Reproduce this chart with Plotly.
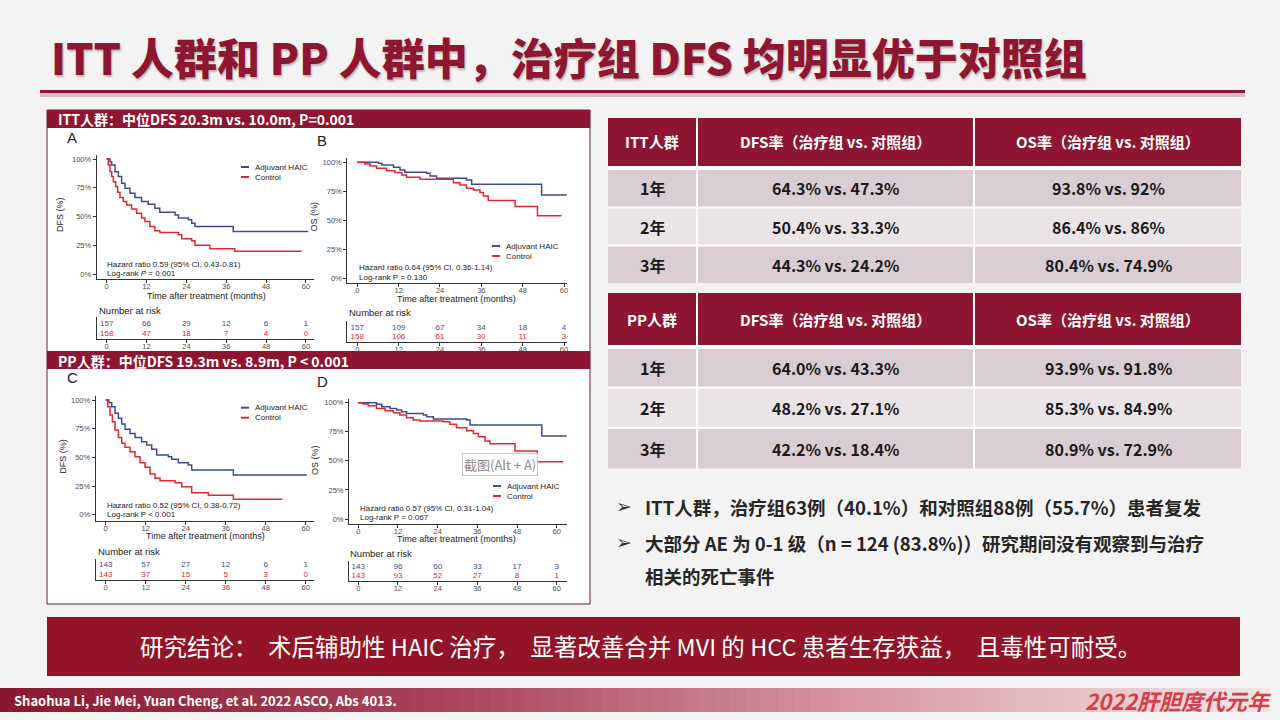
import plotly.graph_objects as go

W, H = 1280, 720


def fx(p):
    return p / W


def fy(p):
    return 1 - p / H


DARK = "#8e1630"
BLUE = "#3b4b96"
RED = "#e2282c"
CJK = "Noto Sans CJK SC"
ARIAL = "Liberation Sans, Arial"

# Kaplan-Meier steps (months, % event-free)
itt_dfs_haic_t = [0, 1, 1.5, 2.5, 3.5, 4.5, 5.5, 7, 8.5, 10.5, 12.5, 14.5, 16, 20.6, 21.6, 24.6, 25.6, 26.6, 38.1, 60.7]
itt_dfs_haic_s = [100, 97.7, 94.8, 89, 84.7, 78.9, 74.6, 70.2, 66.5, 63, 60.7, 57.2, 53.8, 51.4, 48.6, 47.1, 44.2, 41.3, 37, 37]
itt_dfs_ctrl_t = [0, 0.5, 1, 1.5, 2, 2.7, 3.3, 4, 5, 6, 7.5, 9, 10.5, 11.5, 13, 14.5, 16, 21.6, 22.6, 25.6, 26.6, 31.1, 38.6, 58.7]
itt_dfs_ctrl_s = [100, 94.8, 89, 84.7, 80.3, 76, 71.1, 66.5, 63, 60.1, 56.6, 52.9, 48.6, 45.7, 41.3, 37.6, 36.1, 34.1, 30.6, 28.9, 24.9, 22, 19.7, 19.7]

itt_os_haic_t = [0, 6.1, 7.1, 10.5, 12.4, 13.8, 20.1, 21.1, 23, 31.7, 33.2, 53.5, 60.8]
itt_os_haic_s = [100, 99.1, 97.7, 95.7, 93.4, 91.4, 90.5, 88.2, 86.2, 84.7, 81, 71.8, 71.8]
itt_os_ctrl_t = [0, 2.2, 3.7, 5.6, 8.5, 10.9, 12.9, 14.3, 18.2, 27.9, 29.8, 31.7, 33.7, 35.6, 36.6, 38, 45.8, 52.3, 59.3]
itt_os_ctrl_s = [100, 98.6, 96.8, 94.8, 92.8, 91.1, 89, 87, 85.3, 82.4, 80.4, 77.5, 76.1, 73.8, 70.9, 66.9, 61.7, 53.9, 53.9]

pp_dfs_haic_t = [0, 1, 1.8, 2.8, 3.8, 4.8, 5.8, 7.3, 8.8, 10.8, 12.3, 13.8, 15.3, 18.8, 19.8, 21.8, 24.8, 25.8, 38.3, 60.3]
pp_dfs_haic_s = [100, 97.7, 94.2, 88.4, 84, 79.1, 74.4, 70.9, 67.4, 63.7, 60.8, 57, 52, 50.6, 48.3, 45.3, 43.3, 39, 34.6, 34.6]
pp_dfs_ctrl_t = [0, 0.6, 1.3, 2, 2.8, 3.8, 4.8, 5.8, 7.3, 8.8, 10.3, 11.8, 13.3, 14.8, 16.3, 20.8, 22.8, 25.8, 30.8, 38.3, 53]
pp_dfs_ctrl_s = [100, 94.2, 86.9, 81.1, 73.8, 67.4, 62.2, 58.7, 54.9, 50.6, 45.3, 41.3, 35.5, 31.7, 29.7, 27.9, 24.4, 19.2, 16.9, 13.4, 13.4]

pp_os_haic_t = [0, 5.5, 7.1, 9.6, 11.6, 13.1, 14.6, 19.7, 20.7, 22.7, 32.8, 33.8, 55.5, 63]
pp_os_haic_s = [100, 98.6, 96.6, 95.1, 93.7, 92.3, 90.8, 89.4, 88, 86, 85.1, 80.8, 71.3, 71.3]
pp_os_ctrl_t = [0, 1.5, 3, 5.5, 8.1, 10.6, 12.6, 14.6, 16.6, 18.7, 25.7, 27.7, 29.7, 32.8, 34.8, 36.3, 38.3, 39.8, 47.4, 54.1, 62]
pp_os_ctrl_s = [100, 98.9, 97.4, 95.1, 93.1, 91.4, 89.4, 87.1, 85.1, 84.2, 83.7, 81.4, 78.5, 75.9, 73.6, 70.8, 67, 64.8, 58.5, 49.3, 49.3]

# Number at risk
risk_months = [0, 12, 24, 36, 48, 60]
itt_dfs_risk_haic = [157, 66, 29, 12, 6, 1]
itt_dfs_risk_ctrl = [158, 47, 18, 7, 4, 0]
itt_os_risk_haic = [157, 109, 67, 34, 18, 4]
itt_os_risk_ctrl = [158, 106, 61, 30, 11, 3]
pp_dfs_risk_haic = [143, 57, 27, 12, 6, 1]
pp_dfs_risk_ctrl = [143, 37, 15, 5, 3, 0]
pp_os_risk_haic = [143, 96, 60, 33, 17, 3]
pp_os_risk_ctrl = [143, 93, 52, 27, 8, 1]

groups = ["Adjuvant HAIC", "Control"]
hazard = ["Hazard ratio 0.59 (95% CI, 0.43-0.81)", "Hazard ratio 0.64 (95% CI, 0.36-1.14)",
          "Hazard ratio 0.52 (95% CI, 0.38-0.72)", "Hazard ratio 0.57 (95% CI, 0.31-1.04)"]
logrank = ["Log-rank <i>P</i> = 0.001", "Log-rank P = 0.130", "Log-rank P < 0.001", "Log-rank P = 0.067"]

# Rate tables
years = ["1年", "2年", "3年"]
itt_dfs_rate = ["64.3% vs. 47.3%", "50.4% vs. 33.3%", "44.3% vs. 24.2%"]
itt_os_rate = ["93.8% vs. 92%", "86.4% vs. 86%", "80.4% vs. 74.9%"]
pp_dfs_rate = ["64.0% vs. 43.3%", "48.2% vs. 27.1%", "42.2% vs. 18.4%"]
pp_os_rate = ["93.9% vs. 91.8%", "85.3% vs. 84.9%", "80.9% vs. 72.9%"]

curves = [
    (itt_dfs_haic_t, itt_dfs_haic_s, itt_dfs_ctrl_t, itt_dfs_ctrl_s, itt_dfs_risk_haic, itt_dfs_risk_ctrl),
    (itt_os_haic_t, itt_os_haic_s, itt_os_ctrl_t, itt_os_ctrl_s, itt_os_risk_haic, itt_os_risk_ctrl),
    (pp_dfs_haic_t, pp_dfs_haic_s, pp_dfs_ctrl_t, pp_dfs_ctrl_s, pp_dfs_risk_haic, pp_dfs_risk_ctrl),
    (pp_os_haic_t, pp_os_haic_s, pp_os_ctrl_t, pp_os_ctrl_s, pp_os_risk_haic, pp_os_risk_ctrl),
]

# panel geometry in pixels
panels = [
    dict(tag="A", ylab="DFS (%)", L=96.7, R=314, T=155, B=279, p0=106.7, k=3.32, y0=274, ky=1.15,
         rb=339, ru=10, let=(71.7, 137.5), yl=(60, 215), xl=(206, 295.5), leg=(241, 167), hr=(105, 264), nar=(97, 310)),
    dict(tag="B", ylab="OS (%)", L=347.3, R=567, T=158, B=283.3, p0=357.3, k=3.445, y0=278, ky=1.157,
         rb=342, ru=9.4, let=(321.7, 140.5), yl=(313.5, 217), xl=(456.7, 298.5), leg=(492, 246), hr=(356.7, 267.7), nar=(347, 312.7)),
    dict(tag="C", ylab="DFS (%)", L=95.7, R=314, T=396, B=521, p0=105.7, k=3.333, y0=514.7, ky=1.147,
         rb=580, ru=9.7, let=(72, 377.7), yl=(63, 456.7), xl=(205, 536), leg=(241, 407.7), hr=(105, 505.3), nar=(96, 551.3)),
    dict(tag="D", ylab="OS (%)", L=349, R=567, T=399, B=524.3, p0=358.3, k=3.307, y0=519, ky=1.163,
         rb=581, ru=9.3, let=(322, 381.7), yl=(315, 460), xl=(456.7, 539), leg=(493, 486), hr=(358, 508.3), nar=(348, 553.3)),
]

fig = go.Figure()
shapes = []
ann = []


def text(x, y, s, size, color="#222", font=ARIAL, xanchor="left", **kw):
    ann.append(dict(x=fx(x), y=fy(y), xref="paper", yref="paper", text=s, showarrow=False,
                    xanchor=xanchor, yanchor="middle", font=dict(size=size, color=color, family=font), **kw))


def rect(x0, y0, x1, y1, fill, line=None, width=0, layer="below"):
    shapes.append(dict(type="rect", xref="paper", yref="paper", x0=fx(x0), x1=fx(x1), y0=fy(y1), y1=fy(y0),
                       fillcolor=fill, line=dict(color=line or fill, width=width), layer=layer))


# ---- slide decoration ----
ann.append(dict(x=fx(49), y=fy(56), xref="paper", yref="paper", showarrow=False, xanchor="left", yanchor="middle",
                text="ITT 人群和 PP 人群中，治疗组 DFS 均明显优于对照组",
                font=dict(size=43, color=DARK, family=CJK, weight=900,
                          shadow="1px 2px 2px rgba(0,0,0,0.25)")))
shapes.append(dict(type="line", xref="paper", yref="paper", x0=fx(40), x1=fx(1245), y0=fy(95), y1=fy(95),
                   line=dict(color="rgba(140,22,48,0.25)", width=4)))
shapes.append(dict(type="line", xref="paper", yref="paper", x0=fx(40), x1=fx(1245), y0=fy(91.5), y1=fy(91.5),
                   line=dict(color=DARK, width=3)))

rect(47, 110, 590, 604, "white", "#6d1f3a", 1)
rect(47, 110, 590, 128, DARK, layer="above")
rect(47, 351, 590, 369, DARK, layer="above")
text(56, 119.5, "<b>ITT人群：中位DFS 20.3m vs. 10.0m, P=0.001</b>", 14, "white", CJK)
text(56, 360.5, "<b>PP人群：中位DFS 19.3m vs. 8.9m, P < 0.001</b>", 14, "white", CJK)

# ---- KM panels ----
layout_axes = {}
for i, (p, c) in enumerate(zip(panels, curves)):
    n, m = 2 * i + 1, 2 * i + 2
    xr = [(p["L"] - p["p0"]) / p["k"], (p["R"] - p["p0"]) / p["k"]]
    yr = [(p["y0"] - p["B"]) / p["ky"], (p["y0"] - p["T"]) / p["ky"]]
    common = dict(showgrid=False, zeroline=False, showline=True, linecolor="#333", linewidth=1,
                  ticks="outside", ticklen=3, tickcolor="#333", automargin=False,
                  tickfont=dict(size=7.5, color="#4d4d4d", family=ARIAL))
    layout_axes[f"xaxis{n}"] = dict(domain=[fx(p["L"]), fx(p["R"])], range=xr, anchor=f"y{n}",
                                    tickvals=risk_months, ticklabelstandoff=-3, **common)
    layout_axes[f"yaxis{n}"] = dict(domain=[fy(p["B"]), fy(p["T"])], range=yr, anchor=f"x{n}",
                                    tickvals=[0, 25, 50, 75, 100],
                                    ticktext=["0%", "25%", "50%", "75%", "100%"], **common)
    layout_axes[f"xaxis{m}"] = dict(domain=[fx(p["L"]), fx(p["R"])], range=xr, anchor=f"y{m}",
                                    tickvals=risk_months, ticklabelstandoff=-3, **common)
    rtop = p["rb"] - 2.2 * p["ru"]
    layout_axes[f"yaxis{m}"] = dict(domain=[fy(p["rb"]), fy(rtop)], range=[-0.5, 1.7], anchor=f"x{m}",
                                    type="category", categoryorder="array", categoryarray=groups[::-1],
                                    showgrid=False, zeroline=False, showline=True, linecolor="#333",
                                    linewidth=1, showticklabels=False, ticks="", automargin=False)

    th, sh, tc, sc, rh, rc = c
    for t, s, col, g in ((th, sh, BLUE, groups[0]), (tc, sc, RED, groups[1])):
        fig.add_trace(go.Scatter(x=t, y=s, mode="lines", name=g, showlegend=False,
                                 line=dict(shape="hv", color=col, width=1.5),
                                 xaxis=f"x{n}", yaxis=f"y{n}"))
    for r, col, g in ((rh, BLUE, groups[0]), (rc, RED, groups[1])):
        fig.add_trace(go.Scatter(x=risk_months, y=[g] * len(r), mode="text", text=[str(v) for v in r],
                                 textfont=dict(size=8, color=col, family=ARIAL), showlegend=False,
                                 xaxis=f"x{m}", yaxis=f"y{m}"))

    text(*p["let"], p["tag"], 15, "#222", xanchor="center")
    text(*p["yl"], p["ylab"], 9, "#222", xanchor="center", textangle=-90)
    text(*p["xl"], "Time after treatment (months)", 9, "#222", xanchor="center")
    lx, ly = p["leg"]
    for j, (g, col) in enumerate(zip(groups, (BLUE, RED))):
        yy = ly + 10 * j
        shapes.append(dict(type="line", xref="paper", yref="paper", x0=fx(lx), x1=fx(lx + 8),
                           y0=fy(yy), y1=fy(yy), line=dict(color=col, width=2)))
        text(lx + 12, yy, g, 8, "#222")
    hx, hy = p["hr"]
    text(hx, hy, hazard[i], 8, "#222")
    text(hx, hy + 9.5, logrank[i], 8, "#222")
    text(*p["nar"], "Number at risk", 9.5, "#222")

# screenshot tooltip left on the slide
ann.append(dict(x=fx(500), y=fy(464), xref="paper", yref="paper", text="截图(Alt + A)", showarrow=False,
                xanchor="center", yanchor="middle", font=dict(size=13, color="#8a8a8a", family=CJK),
                bgcolor="rgba(255,255,255,0.9)", bordercolor="#c8c8c8", borderwidth=1, borderpad=1))

# ---- rate tables ----
cols = [608, 697, 974, 1241]
tables = [
    ("ITT人群", itt_dfs_rate, itt_os_rate, [118, 166, 207.5, 245.5, 283]),
    ("PP人群", pp_dfs_rate, pp_os_rate, [293, 345, 387.5, 428, 468.5]),
]
row_fill = ["#d9ccd2", "#ebe4e7", "#d9ccd2"]
for name, dfs, os_, rows in tables:
    rect(cols[0], rows[0], cols[-1], rows[-1], "white")
    heads = [name, "DFS率（治疗组 vs. 对照组）", "OS率（治疗组 vs. 对照组）"]
    for ci in range(3):
        x0, x1 = cols[ci] + (1 if ci else 0), cols[ci + 1] - (1 if ci < 2 else 0)
        rect(x0, rows[0], x1, rows[1], DARK)
        text((x0 + x1) / 2, (rows[0] + rows[1]) / 2, f"<b>{heads[ci]}</b>", 15, "white", CJK, xanchor="center")
        vals = [years, dfs, os_][ci]
        for ri in range(3):
            y0 = rows[ri + 1] + (4 if ri == 0 else 1)
            y1 = rows[ri + 2] - (1 if ri < 2 else 0)
            rect(x0, y0, x1, y1, row_fill[ri])
            text((x0 + x1) / 2, (y0 + y1) / 2, f"<b>{vals[ri]}</b>", 16, "#1a1a1a", CJK, xanchor="center")

# bullets
text(614, 506, "➢", 19, "#333", "DejaVu Sans")
text(614, 542, "➢", 19, "#333", "DejaVu Sans")
text(643, 507, "<b>ITT人群，治疗组63例（40.1%）和对照组88例（55.7%）患者复发</b>", 18.5, "#262626", CJK)
text(643, 543, "<b>大部分 AE 为 0-1 级（n = 124 (83.8%)）研究期间没有观察到与治疗</b>", 18.5, "#262626", CJK)
text(643, 576, "<b>相关的死亡事件</b>", 18.5, "#262626", CJK)

# conclusion box
rect(47, 617, 1240, 676, "#921428")
text(640, 646, "研究结论：  术后辅助性 HAIC 治疗，  显著改善合并 MVI 的 HCC 患者生存获益，  且毒性可耐受。",
     23.5, "white", CJK, xanchor="center")

# footer gradient bar
stops = [(0, (140, 24, 46)), (450, (170, 70, 90)), (850, (215, 150, 160)), (1270, (244, 230, 232))]
n_slices = 80
for s in range(n_slices):
    a, b = 1270 * s / n_slices, 1270 * (s + 1) / n_slices
    mid = (a + b) / 2
    for (p0, c0), (p1, c1) in zip(stops[:-1], stops[1:]):
        if p0 <= mid <= p1:
            f = (mid - p0) / (p1 - p0)
            rgb = tuple(int(c0[q] + (c1[q] - c0[q]) * f) for q in range(3))
            break
    rect(a, 688, b + 0.6, 712, "rgb(%d,%d,%d)" % rgb)
text(12, 700, "<b>Shaohua Li, Jie Mei, Yuan Cheng, et al. 2022 ASCO, Abs 4013.</b>", 13, "white", CJK)
text(1274, 700, "<b><i>2022肝胆度代元年</i></b>", 22, "#d2404a", CJK, xanchor="right")

fig.update_layout(
    width=W, height=H, autosize=False,
    margin=dict(l=0, r=0, t=0, b=0),
    paper_bgcolor="#f3f3f3", plot_bgcolor="rgba(0,0,0,0)",
    showlegend=False, shapes=shapes, annotations=ann,
    **layout_axes,
)

fig.write_html("out.html", config={"displayModeBar": False},
               post_script="document.body.style.margin='0';")
